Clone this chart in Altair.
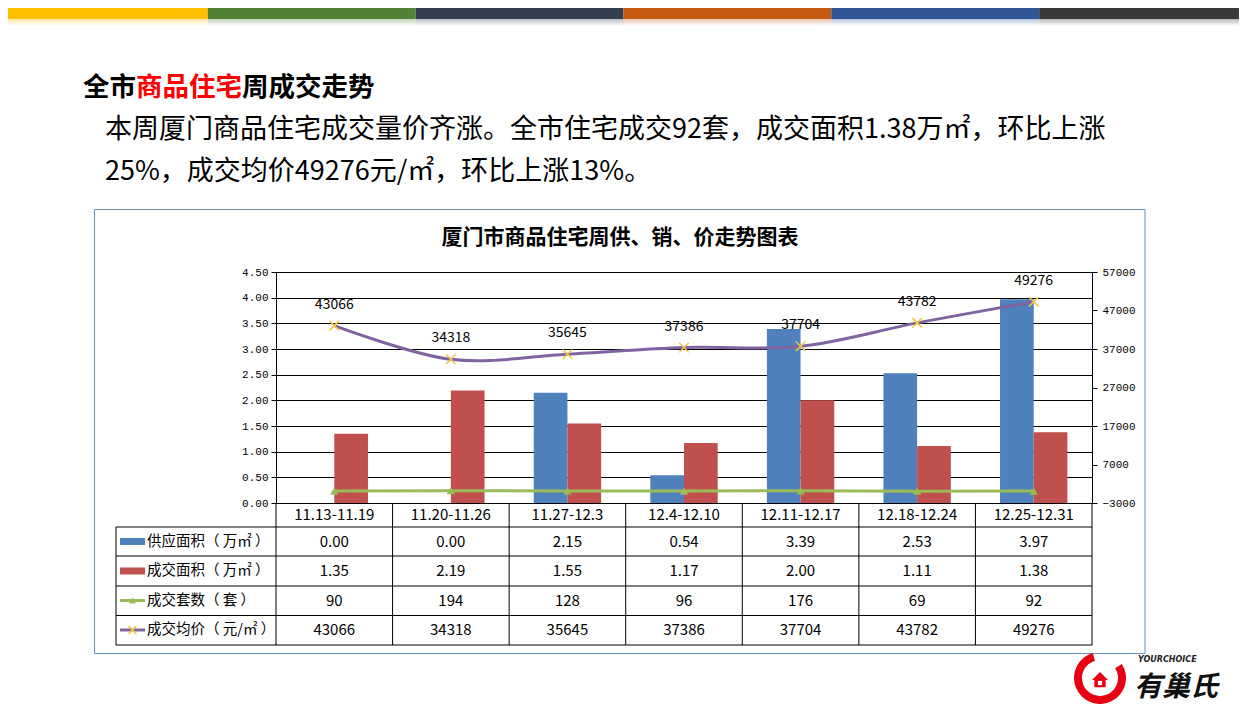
import altair as alt
import pandas as pd

# ---------------- data ----------------
weeks = ["11.13-11.19", "11.20-11.26", "11.27-12.3", "12.4-12.10",
         "12.11-12.17", "12.18-12.24", "12.25-12.31"]
supply_area = [0.00, 0.00, 2.15, 0.54, 3.39, 2.53, 3.97]   # 供应面积（万㎡）
deal_area = [1.35, 2.19, 1.55, 1.17, 2.00, 1.11, 1.38]     # 成交面积（万㎡）
deal_units = [90, 194, 128, 96, 176, 69, 92]               # 成交套数（套）
avg_price = [43066, 34318, 35645, 37386, 37704, 43782, 49276]  # 成交均价（元/㎡）

bar_series = ["供应面积", "成交面积"]
row_labels = ["供应面积（ 万㎡ ）", "成交面积（ 万㎡ ）", "成交套数（ 套 ）", "成交均价（ 元/㎡ ）"]
left_ticks = [0.0, 0.5, 1.0, 1.5, 2.0, 2.5, 3.0, 3.5, 4.0, 4.5]
right_ticks = [-3000, 7000, 17000, 27000, 37000, 47000, 57000]

heading_parts = ["全市", "商品住宅", "周成交走势"]
para_lines = ["本周厦门商品住宅成交量价齐涨。全市住宅成交92套，成交面积1.38万㎡，环比上涨",
              "25%，成交均价49276元/㎡，环比上涨13%。"]
chart_title = "厦门市商品住宅周供、销、价走势图表"
stripe_colors = ["#FFC000", "#538135", "#333F50", "#C55A11", "#2F5597", "#3A3838"]

# ---------------- styling ----------------
W, H = 816, 231
FONT = "Noto Sans CJK SC"
AXFONT = "Liberation Mono"
BLUE, RED, GREEN, PURPLE, GOLD = "#4F81BD", "#C0504D", "#9BBB59", "#8064A2", "#F2C744"
XPATH = "M-1,-1L1,1M-1,1L1,-1"

bars_df = pd.DataFrame({
    "week": weeks * 2,
    "series": [bar_series[0]] * len(weeks) + [bar_series[1]] * len(weeks),
    "value": supply_area + deal_area,
})
table_df = pd.DataFrame({"week": weeks, "supply": supply_area, "deal": deal_area,
                         "units": deal_units, "price": avg_price})
units_df = pd.DataFrame({"week": weeks, "rv": deal_units})
price_df = pd.DataFrame({"week": weeks, "rv": avg_price})
one = pd.DataFrame({"k": [0]})

x_scale = alt.Scale(domain=weeks, paddingInner=0, paddingOuter=0)


def X(**kw):
    return alt.X("week:N", sort=weeks, scale=x_scale, axis=None, **kw)


def hline(y, x1, x2, color="#000000", w=1):
    return alt.Chart(one).mark_rule(color=color, strokeWidth=w).encode(
        x=alt.value(x1), x2=alt.value(x2), y=alt.value(y))


def vline(x, y1, y2, color="#000000", w=1):
    return alt.Chart(one).mark_rule(color=color, strokeWidth=w).encode(
        x=alt.value(x), y=alt.value(y1), y2=alt.value(y2))


def rect(x1, x2, y1, y2, **mk):
    return alt.Chart(one).mark_rect(**mk).encode(
        x=alt.value(x1), x2=alt.value(x2), y=alt.value(y1), y2=alt.value(y2))


def label(x, y, s, **mk):
    base = dict(font=FONT, align="left", baseline="middle", color="#000000")
    base.update(mk)
    return alt.Chart(one).mark_text(text=s, **base).encode(x=alt.value(x), y=alt.value(y))


layers = []

# top colour stripes (page top)
seg = 1247 / 6
for i, c in enumerate(stripe_colors):
    x1 = max(8, i * seg) - 276
    x2 = min(1239, (i + 1) * seg) - 276
    layers.append(rect(x1, x2, -264, -253, color=c))
    layers.append(rect(x1, x2, -253, -246, color=alt.Gradient(
        gradient="linear", x1=0, x2=0, y1=0, y2=1,
        stops=[alt.GradientStop(color=c, offset=0), alt.GradientStop(color="#FFFFFF", offset=1)]),
        opacity=0.35))

# heading + paragraph
hx = -193
fs_h = 26.5
layers.append(label(hx, -184, heading_parts[0], fontSize=fs_h, fontWeight="bold"))
layers.append(label(hx + fs_h * 2, -184, heading_parts[1], fontSize=fs_h, fontWeight="bold", color="#FF0000"))
layers.append(label(hx + fs_h * 6, -184, heading_parts[2], fontSize=fs_h, fontWeight="bold"))
layers.append(label(-171, -142, para_lines[0], fontSize=27))
layers.append(label(-171, -100, para_lines[1], fontSize=27))

# chart box and title
layers.append(rect(-181.5, 869, -62.5, 381.5, fillOpacity=0, stroke="#6B8DB5", strokeWidth=1))
layers.append(label(344, -34, chart_title, fontSize=21, fontWeight="bold", align="center"))

# ---------------- bars (left axis) ----------------
yl = alt.Y("value:Q", scale=alt.Scale(domain=[0, 4.5], nice=False, zero=False),
           axis=alt.Axis(orient="left", values=left_ticks, format=".2f", grid=True,
                         gridColor="#000000", gridOpacity=1, gridWidth=1,
                         domainColor="#000000", tickColor="#000000", tickSize=5,
                         labelFont=AXFONT, labelFontSize=11, labelColor="#000000",
                         labelPadding=3, title=None))
bars = alt.Chart(bars_df).mark_bar().encode(
    x=X(),
    xOffset=alt.XOffset("series:N", sort=bar_series,
                        scale=alt.Scale(domain=bar_series, paddingInner=0, paddingOuter=0.73)),
    y=yl,
    color=alt.Color("series:N", scale=alt.Scale(domain=bar_series, range=[BLUE, RED]), legend=None),
)

# ---------------- lines (right axis) ----------------
yr = alt.Y("rv:Q", scale=alt.Scale(domain=[-3000, 57000], nice=False, zero=False),
           axis=alt.Axis(orient="right", values=right_ticks, format="d", grid=False,
                         domainColor="#000000", tickColor="#000000", tickSize=5,
                         labelFont=AXFONT, labelFontSize=11, labelColor="#000000",
                         labelPadding=5, title=None))
green_line = alt.Chart(units_df).mark_line(color=GREEN, strokeWidth=3).encode(x=X(), y=yr)
green_pts = alt.Chart(units_df).mark_point(shape="triangle-up", filled=True, color=GREEN,
                                           size=70, opacity=1).encode(x=X(), y=yr)
purple_line = alt.Chart(price_df).mark_line(color=PURPLE, strokeWidth=3, interpolate="cardinal",
                                            tension=0).encode(x=X(), y=yr)
purple_pts = alt.Chart(price_df).mark_point(shape=XPATH, filled=False, stroke=GOLD, strokeWidth=1.5,
                                            size=90, opacity=1).encode(x=X(), y=yr)
price_labels = alt.Chart(price_df).mark_text(font=FONT, fontSize=14, dy=-21, color="#000000").encode(
    x=X(), y=yr, text=alt.Text("rv:Q", format="d"))
right = alt.layer(green_line, green_pts, purple_line, purple_pts, price_labels)

# ---------------- data table ----------------
tbl = []
row_y = [269.5, 299, 328.5, 358]
tbl.append(alt.Chart(table_df).mark_text(font=FONT, fontSize=15, color="#000000").encode(
    x=X(), y=alt.value(243), text="week:N"))
for fld, fmt, yy in [("supply", ".2f", row_y[0]), ("deal", ".2f", row_y[1]),
                     ("units", "d", row_y[2]), ("price", "d", row_y[3])]:
    tbl.append(alt.Chart(table_df).mark_text(font=FONT, fontSize=15, color="#000000").encode(
        x=X(), y=alt.value(yy), text=alt.Text(f"{fld}:Q", format=fmt)))
# grid lines of table
for yy in [255, 284, 314, 343.5, 373]:
    tbl.append(hline(yy, -160, W))
tbl.append(alt.Chart(table_df).mark_rule(color="#000000", strokeWidth=1).encode(
    x=X(bandPosition=0), y=alt.value(H), y2=alt.value(373)))
tbl.append(vline(W, H, 373))
tbl.append(vline(-160, 255, 373))
# row legends
for lbl, yy in zip(row_labels, row_y):
    tbl.append(label(-129, yy, lbl, fontSize=14.5))
tbl.append(rect(-156, -131, row_y[0] - 3.5, row_y[0] + 3.5, color=BLUE))
tbl.append(rect(-156, -131, row_y[1] - 3.5, row_y[1] + 3.5, color=RED))
tbl.append(hline(row_y[2], -156, -131, color=GREEN, w=3))
tbl.append(alt.Chart(one).mark_point(shape="triangle-up", filled=True, color=GREEN, size=50, opacity=1)
           .encode(x=alt.value(-143.5), y=alt.value(row_y[2])))
tbl.append(hline(row_y[3], -156, -131, color=PURPLE, w=3))
tbl.append(alt.Chart(one).mark_point(shape=XPATH, filled=False, stroke=GOLD, strokeWidth=1.5, size=60,
                                     opacity=1).encode(x=alt.value(-143.5), y=alt.value(row_y[3])))

# ---------------- logo ----------------
logo = [
    alt.Chart(one).mark_arc(radius=26, radius2=18, theta=1.0, theta2=6.0, color="#E60012")
    .encode(x=alt.value(824), y=alt.value(406)),
    alt.Chart(one).mark_point(shape="M0,-1L1,0L0.7,0L0.7,0.9L-0.7,0.9L-0.7,0L-1,0Z", filled=True,
                              color="#E60012", size=260, opacity=1)
    .encode(x=alt.value(824), y=alt.value(408)),
    alt.Chart(one).mark_point(shape="square", filled=True, color="#FFFFFF", size=18, opacity=1)
    .encode(x=alt.value(824), y=alt.value(411)),
    label(862, 388, "YOURCHOICE", fontSize=8, fontStyle="italic", fontWeight="bold", color="#222222",
          font="DejaVu Sans"),
    label(858, 416, "有巢氏", fontSize=28, fontStyle="italic", fontWeight="bold", color="#111111"),
]

chart = alt.layer(*layers, bars, right, *tbl, *logo).resolve_scale(y="independent").properties(
    width=W, height=H,
    autosize=alt.AutoSizeParams(type="none"),
    padding={"left": 268, "top": 264, "right": 147, "bottom": 201},
    background="#FFFFFF",
).configure_view(strokeWidth=0)

chart.save("out.html", embed_options={"renderer": "svg", "actions": False})
